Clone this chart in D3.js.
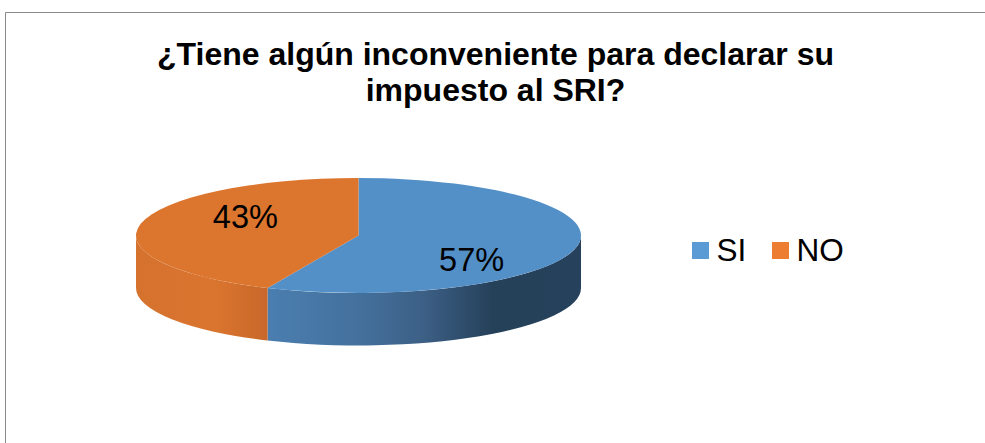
<!DOCTYPE html>
<html>
<head>
<meta charset="utf-8">
<script src="https://cdn.jsdelivr.net/npm/d3@7"></script>
<style>
  html, body { margin: 0; padding: 0; background: #fff; overflow: hidden; }
  svg { display: block; }
  text { font-family: "Liberation Sans", Arial, sans-serif; fill: #000; }
</style>
</head>
<body>
<svg width="985" height="443"></svg>
<script>
const categories = ["SI", "NO"];
const values = [56.7, 43.3];
const labels = ["57%", "43%"];
const titleLines = ["¿Tiene algún inconveniente para declarar su", "impuesto al SRI?"];

const topColors = ["#5490c8", "#dc752e"];
const legendColors = ["#5b9bd5", "#ed7d31"];

let svg = d3.select("svg");

// chart frame, runs off the right and bottom of the picture
svg.append("path")
  .attr("d", "M5.5,443V12.5H985")
  .attr("fill", "none")
  .attr("stroke", "#8a8a8a")
  .attr("stroke-width", 1);

svg.selectAll("text.title")
  .data(titleLines)
  .enter().append("text")
    .attr("class", "title")
    .attr("x", 495.5)
    .attr("y", (d, i) => 64.5 + i * 36)
    .attr("text-anchor", "middle")
    .attr("font-size", 32)
    .attr("font-weight", "bold")
    .text(d => d);

// pie geometry
const cx = 358.5, cy = 235.5, rx = 222.5, ry = 57.5, depth = 52.5;

let slices = d3.pie().sort(null)(values);

let px = d3.scaleLinear().domain([-1, 1]).range([cx - rx, cx + rx]);
let py = d3.scaleLinear().domain([-1, 1]).range([cy - ry, cy + ry]);
let pointAt = a => [px(Math.sin(a)), py(-Math.cos(a))];

let defs = svg.append("defs");

function sideGradient(id, x1, x2, stops) {
  let grad = defs.append("linearGradient")
    .attr("id", id)
    .attr("gradientUnits", "userSpaceOnUse")
    .attr("x1", x1).attr("x2", x2)
    .attr("y1", 0).attr("y2", 0);
  stops.forEach(s => grad.append("stop").attr("offset", s[0]).attr("stop-color", s[1]));
}

let splitX = pointAt(slices[0].endAngle)[0];
sideGradient("side0", splitX, cx + rx, [
  [0, "#4a7eb0"], [0.3, "#44709c"], [0.5, "#3c5f85"], [0.72, "#254059"], [1, "#26415b"]
]);
sideGradient("side1", cx - rx, splitX, [
  [0, "#d5722e"], [0.6, "#da752f"], [0.75, "#d4702d"], [1, "#c7672a"]
]);

// wall only shows on the front half of the ellipse
function sidePath(a0, a1) {
  let from = Math.max(a0, Math.PI / 2), to = Math.min(a1, Math.PI * 1.5);
  let p0 = pointAt(from), p1 = pointAt(to);
  return "M" + p0 + "A" + rx + "," + ry + " 0 0 1 " + p1 +
    "L" + p1[0] + "," + (p1[1] + depth) +
    "A" + rx + "," + ry + " 0 0 0 " + p0[0] + "," + (p0[1] + depth) + "Z";
}

svg.selectAll("path.side")
  .data(slices)
  .enter().append("path")
    .attr("class", "side")
    .attr("d", d => sidePath(d.startAngle, d.endAngle))
    .attr("fill", (d, i) => "url(#side" + i + ")");

let arc = d3.arc().innerRadius(0).outerRadius(rx);

svg.append("g")
    .attr("transform", "translate(" + cx + "," + cy + ") scale(1," + (ry / rx) + ")")
  .selectAll("path")
  .data(slices)
  .enter().append("path")
    .attr("d", arc)
    .attr("fill", (d, i) => topColors[i]);

// data labels, pushed out vertically from the slice middle like the original
svg.selectAll("text.label")
  .data(slices)
  .enter().append("text")
    .attr("class", "label")
    .attr("x", d => px(0.52 * Math.sin((d.startAngle + d.endAngle) / 2)))
    .attr("y", d => py(-1.75 * Math.cos((d.startAngle + d.endAngle) / 2)))
    .attr("dy", 14)
    .attr("text-anchor", "middle")
    .attr("font-size", 32.5)
    .text((d, i) => labels[i]);

// legend
let legendX = d3.scaleOrdinal().domain(categories).range([692, 772]);

let legend = svg.selectAll("g.legend")
  .data(categories)
  .enter().append("g")
    .attr("class", "legend")
    .attr("transform", d => "translate(" + legendX(d) + ",242)");

legend.append("rect")
  .attr("width", 17)
  .attr("height", 17)
  .attr("fill", (d, i) => legendColors[i]);

legend.append("text")
  .attr("x", 24.5)
  .attr("y", 19)
  .attr("font-size", 31.5)
  .text(d => d);
</script>
</body>
</html>
